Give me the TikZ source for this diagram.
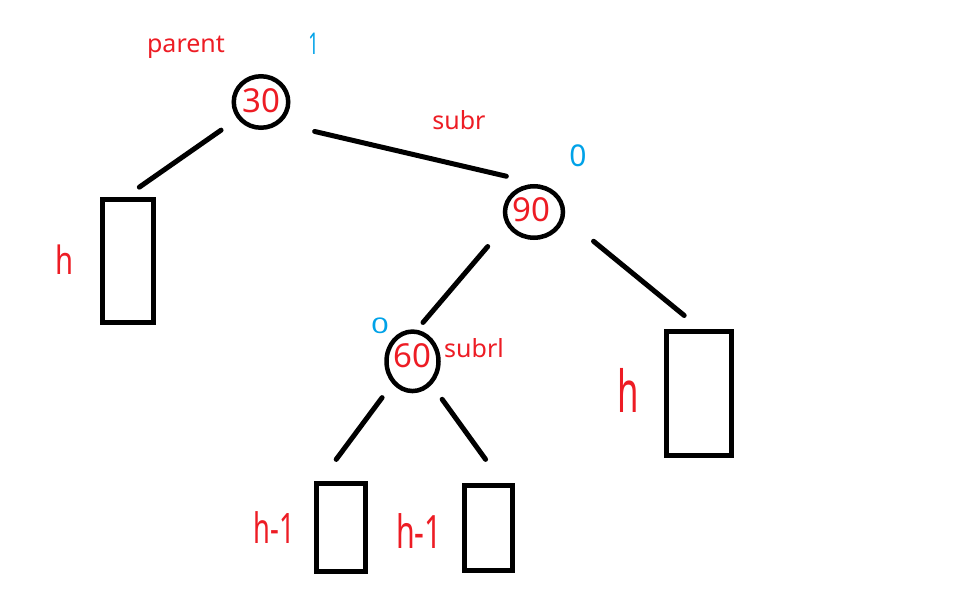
\documentclass[tikz,border=0pt]{standalone}
\usepackage{fontspec}
\setmainfont{Noto Sans}
\usetikzlibrary{shapes.geometric,calc}
\definecolor{pred}{RGB}{237,28,36}
\definecolor{pblue}{RGB}{0,162,232}
\newcommand{\fs}[1]{\fontsize{#1}{#1}\selectfont}
\begin{document}
\begin{tikzpicture}[x=1pt,y=-1pt,
  treenode/.style={draw=black,line width=4.5pt,ellipse,inner sep=0pt},
  subtree/.style={draw=black,line width=5pt,rectangle,inner sep=0pt},
  edge/.style={draw=black,line width=5pt,line cap=round,shorten <=2pt,shorten >=2pt},
  keytxt/.style={text=pred,inner sep=0pt,font=\fs{33}},
  htxt/.style={text=pred,inner sep=0pt},
  baltxt/.style={text=pblue,inner sep=0pt},
  nametxt/.style={text=pred,inner sep=0pt,font=\fs{25}}]
\useasboundingbox (0,0) rectangle (959,610);
% tree nodes
\node[treenode,minimum width=54.5pt,minimum height=51.5pt] (n30) at (261,102) {};
\node[treenode,minimum width=58pt,minimum height=51.5pt] (n90) at (534,212) {};
\node[treenode,minimum width=52pt,minimum height=59.5pt] (n60) at (412.5,361.3) {};
\node[keytxt] (k30) at (261,100.5) {30};
\node[keytxt] (k90) at (531,210) {90};
\node[keytxt] (k60) at (412,355.5) {60};
% subtrees
\node[subtree,minimum width=51pt,minimum height=123pt] (rL) at (128,260.5) {};
\node[subtree,minimum width=64.5pt,minimum height=123.5pt] (rR) at (698.75,393.25) {};
\node[subtree,minimum width=48.5pt,minimum height=87.5pt] (rLL) at (340.75,527.25) {};
\node[subtree,minimum width=48.5pt,minimum height=85pt] (rLR) at (488.25,527.5) {};
% edges
\draw[edge] ($(n30)+(-38.3,27)$) -- ($(rL)+(9.7,-72.2)$);
\draw[edge] ($(n30)+(51.7,29)$) -- ($(n90)+(-25.7,-35.3)$);
\draw[edge] ($(n90)+(-45,33)$) -- ($(n60)+(9.2,-37.3)$);
\draw[edge] ($(n90)+(58,28)$) -- ($(rR)+(-13,-76.5)$);
\draw[edge] ($(n60)+(-29.2,34.7)$) -- ($(rLL)+(-5.75,-66.25)$);
\draw[edge] ($(n60)+(28.5,36.4)$) -- ($(rLR)+(-1.5,-66.5)$);
% names
\node[nametxt,anchor=base] (tparent) at (186,53) {parent};
\node[nametxt,anchor=base] (tsubr) at (459,129) {subr};
\node[nametxt,anchor=base west] (tsubrl) at (444,357) {subrl};
% balance factors
\node[baltxt,font=\fs{30}\bfseries] (b30) at (313.5,44) {\scalebox{0.6}[1]{1}};
\node[baltxt,font=\fs{30}] (b90) at (578,156) {0};
\node[baltxt,font=\fs{24}] (b60) at (380,325.5) {\scalebox{1.3}[0.9]{0}};
% heights
\node[htxt,font=\fs{39}] (hL) at (64.5,260) {\scalebox{0.75}[1]{h}};
\node[htxt,font=\fs{58}] (hR) at (628,390.5) {\scalebox{0.6}[1]{h}};
\node[htxt,font=\fs{42}] (hLL) at (274.5,528) {\scalebox{0.65}[1]{h-1}};
\node[htxt,font=\fs{46}] (hLR) at (419,531.5) {\scalebox{0.66}[1]{h-1}};
\end{tikzpicture}
\end{document}
